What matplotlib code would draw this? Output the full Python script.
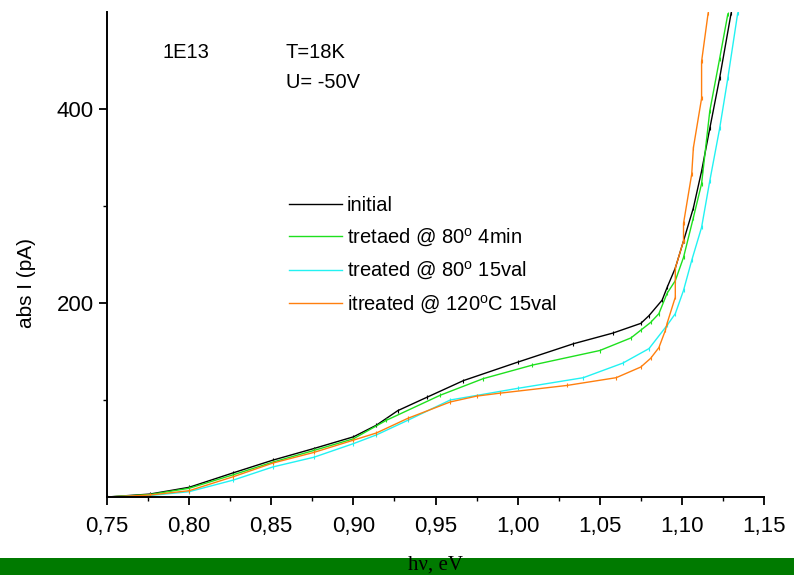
import matplotlib
matplotlib.use("Agg")
import matplotlib.pyplot as plt
from matplotlib.patches import Rectangle
from matplotlib.ticker import MultipleLocator, FixedLocator

plt.rcParams["font.family"] = ["Liberation Sans", "DejaVu Sans"]
plt.rcParams["mathtext.fontset"] = "custom"
plt.rcParams["mathtext.rm"] = "Liberation Sans"

# photon energy (eV) and abs current (pA)
x_initial = [0.75, 0.776, 0.80, 0.827, 0.851, 0.876, 0.90, 0.914, 0.927, 0.945,
             0.967, 1.00, 1.034, 1.058, 1.075, 1.080, 1.088, 1.091, 1.096,
             1.101, 1.107, 1.112, 1.117, 1.123, 1.130]
y_initial = [0, 3, 10, 25, 38, 50, 62, 74, 89, 103,
             120, 139, 158, 169, 179, 187, 203, 216, 236,
             264, 298, 336, 380, 432, 499]

x_80_4min = [0.75, 0.776, 0.80, 0.827, 0.851, 0.876, 0.90, 0.920, 0.953, 0.979,
             1.009, 1.050, 1.069, 1.075, 1.081, 1.086, 1.091, 1.096, 1.101,
             1.107, 1.112, 1.117, 1.123, 1.128]
y_80_4min = [0, 2.5, 9, 23, 36, 48, 60, 79, 105, 122,
             136, 151, 164, 172, 180, 189, 210, 223, 247,
             288, 323, 398, 452, 498]

x_80_15val = [0.75, 0.776, 0.80, 0.827, 0.851, 0.876, 0.90, 0.914, 0.933, 0.959,
              1.00, 1.040, 1.064, 1.080, 1.091, 1.096, 1.101, 1.106, 1.112,
              1.117, 1.123, 1.128, 1.134]
y_80_15val = [0, 1.5, 5.5, 17.5, 31, 41, 55, 64, 79, 100,
              112, 123, 138, 153, 177, 189, 213, 244, 278,
              326, 380, 432, 499]

x_120_15val = [0.75, 0.776, 0.80, 0.827, 0.851, 0.876, 0.90, 0.914, 0.933, 0.959,
               0.975, 0.989, 1.030, 1.060, 1.075, 1.081, 1.086, 1.090, 1.091, 1.096,
               1.096, 1.101, 1.101, 1.106, 1.107, 1.112, 1.112, 1.116]
y_120_15val = [0, 2, 6.5, 21, 35, 46, 58.6, 66, 81, 98,
               104, 107, 115, 123, 134, 143, 154, 172, 179, 206,
               236, 264, 282, 333, 360, 411, 449, 499]

labels = ["initial", r"tretaed @ 80$^\mathrm{o}$ 4min",
          r"treated @ 80$^\mathrm{o}$ 15val", r"itreated @ 120$^\mathrm{o}$C 15val"]
colors = ["black", "#1ee01e", "#22f2f2", "#ff7f0e"]

fig = plt.figure(figsize=(7.94, 5.75), dpi=100)
ax = fig.add_axes([107 / 794, 1 - 497 / 575, 657 / 794, 485 / 575])

series = [(x_initial, y_initial), (x_80_4min, y_80_4min),
          (x_80_15val, y_80_15val), (x_120_15val, y_120_15val)]
for (xs, ys), lab, col in zip(series, labels, colors):
    ax.plot(xs, ys, color=col, lw=1.0, marker="|", ms=2.5, mew=0.8, label=lab)

ax.set_xlim(0.75, 1.15)
ax.set_ylim(0, 500)
ax.xaxis.set_major_locator(MultipleLocator(0.05))
ax.xaxis.set_minor_locator(MultipleLocator(0.025))
ax.yaxis.set_major_locator(FixedLocator([200, 400]))
ax.yaxis.set_minor_locator(FixedLocator([100, 300]))
ax.set_xticklabels([f"{v:.2f}".replace(".", ",") for v in ax.get_xticks()])

for side in ["top", "right"]:
    ax.spines[side].set_visible(False)
for side in ["left", "bottom"]:
    ax.spines[side].set_linewidth(1.4)
ax.tick_params(which="major", length=6, width=1.3, labelsize=16, direction="out")
ax.tick_params(which="minor", length=3, width=1.0, direction="out")
ax.tick_params(axis="x", pad=8)

leg = ax.legend(loc="upper left", bbox_to_anchor=(0.265, 0.637), frameon=False,
                fontsize=14.5, handlelength=2.6, handletextpad=0.25,
                labelspacing=0.55, borderaxespad=0)
for h in leg.legend_handles:
    h.set_marker("")

fig.text(162 / 794, 1 - 53 / 575, "1E13", fontsize=14.5, va="center")
fig.text(286 / 794, 1 - 53 / 575, "T=18K", fontsize=14.5, va="center")
fig.text(286 / 794, 1 - 83 / 575, "U= -50V", fontsize=14.5, va="center")

fig.text(27 / 794, 1 - 283 / 575, "abs I (pA)", rotation=90, fontsize=15,
         ha="center", va="center")

# green band at the bottom
fig.patches.append(Rectangle((0, 0), 1, 17 / 575, transform=fig.transFigure,
                             facecolor="#007a00", edgecolor="none", zorder=0))
fig.text(436 / 794, 1 - 556 / 575, "h\u03bd, eV", family="Liberation Serif",
         fontsize=15, ha="center", va="top")

fig.savefig("out.png", dpi=100)
